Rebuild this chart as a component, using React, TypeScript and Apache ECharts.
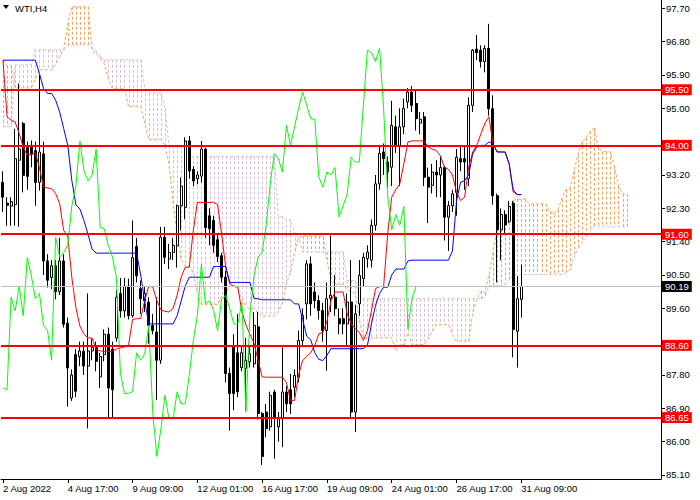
import React, { useEffect, useRef } from 'react';
import * as echarts from 'echarts';

const FONT = '"Liberation Sans", Arial, sans-serif';

// Tick labels
const xTickLabels = ['2 Aug 2022', '4 Aug 17:00', '9 Aug 09:00', '12 Aug 01:00', '16 Aug 17:00', '19 Aug 09:00', '24 Aug 01:00', '26 Aug 17:00', '31 Aug 09:00'];
const barsPerXTick = 16;
const yTickValues = [85.1, 86.0, 86.9, 87.8, 88.7, 89.6, 90.5, 91.4, 92.3, 93.2, 94.1, 95.0, 95.9, 96.8, 97.7];
// labels hidden behind the level boxes in the reference
const yHiddenLabels = [88.7, 94.1];
const levels = [95.5, 94.0, 91.6, 88.6, 86.65];
const lastPrice = 90.19;
const totalSlots = 163;
const chikouShift = 26;

// H4 candles (WTI)
const opens = [
  93.0, 92.44, 92.36, 92.4, 93.6, 94.59, 93.95, 94.0, 93.86, 93.0,
  93.77, 90.88, 90.43, 90.75, 90.05, 90.88, 89.2, 87.18, 88.35, 88.3,
  88.44, 88.04, 88.45, 88.54, 87.75, 88.35, 88.9, 88.5, 88.8, 90.0,
  89.53, 90.2, 89.4, 91.27, 90.13, 89.8, 89.77, 89.14, 88.96, 88.2,
  91.52, 90.93, 91.11, 91.29, 92.37, 92.32, 94.12, 93.35, 93.1, 93.17,
  93.9, 92.1, 91.97, 91.45, 91.02, 90.44, 87.84, 88.56, 88.4, 88.0,
  87.98, 88.15, 88.1, 89.1, 86.76, 86.8, 86.4, 87.34, 86.4, 86.62,
  87.34, 87.4, 87.47, 87.74, 88.73, 89.72, 90.8, 90.04, 89.81, 89.54,
  89.0, 89.87, 89.9, 89.32, 89.32, 89.18, 89.77, 86.8, 89.72, 90.4,
  90.94, 90.9, 91.84, 92.96, 93.82, 93.55, 93.41, 94.5, 94.0, 94.5,
  95.17, 95.44, 95.13, 94.6, 94.77, 93.14, 92.92, 93.28, 93.2, 93.4,
  92.06, 92.37, 92.73, 93.64, 93.64, 93.1, 95.08, 96.6, 96.57, 96.26,
  96.62, 94.99, 92.64, 91.72, 92.13, 91.95, 92.44, 88.98, 89.84,
];
const closes = [
  92.6, 92.38, 92.48, 93.64, 93.9, 93.19, 93.16, 93.77, 93.0, 93.82,
  90.88, 90.36, 90.75, 90.05, 90.88, 89.17, 87.99, 87.8, 87.36, 88.45,
  88.04, 88.45, 88.54, 88.17, 88.3, 88.9, 87.45, 87.4, 89.9, 89.53,
  90.2, 89.4, 90.97, 90.48, 89.86, 90.0, 89.14, 89.0, 88.2, 91.52,
  90.98, 91.11, 91.3, 92.37, 92.9, 94.12, 93.31, 93.04, 93.2, 93.9,
  91.78, 91.75, 91.3, 91.0, 90.44, 87.84, 87.3, 87.3, 87.35, 88.4,
  88.2, 88.37, 89.14, 86.76, 85.6, 86.35, 87.25, 86.62, 86.62, 87.34,
  87.02, 87.02, 87.79, 88.73, 89.41, 90.8, 89.72, 89.81, 89.54, 89.0,
  89.86, 89.95, 89.59, 89.18, 89.18, 89.77, 86.8, 89.45, 90.49, 90.98,
  91.12, 91.84, 92.96, 93.78, 93.64, 93.28, 94.54, 94.0, 94.5, 95.0,
  95.44, 95.08, 94.72, 94.7, 93.14, 92.87, 93.28, 93.2, 93.4, 92.06,
  92.37, 92.69, 93.68, 93.55, 93.55, 95.08, 96.57, 96.5, 96.26, 96.62,
  94.99, 92.64, 91.72, 92.13, 91.85, 92.35, 89.03, 89.86, 90.19,
];
const highs = [
  93.3, 92.6, 92.6, 94.45, 95.67, 94.63, 94.1, 94.13, 94.1, 95.9,
  94.1, 91.06, 90.9, 90.9, 91.5, 91.06, 89.35, 87.95, 88.5, 88.7,
  88.7, 90.0, 88.77, 88.7, 88.4, 89.03, 89.08, 88.7, 90.1, 90.42,
  90.42, 90.4, 91.97, 91.5, 90.35, 90.2, 89.9, 89.45, 89.9, 91.8,
  91.8, 91.34, 91.5, 92.4, 93.13, 94.22, 94.25, 93.44, 93.3, 94.12,
  93.94, 92.3, 92.1, 91.6, 91.1, 90.62, 88.0, 88.9, 89.45, 88.6,
  88.8, 88.6, 89.5, 89.5, 86.8, 87.02, 87.35, 87.4, 86.8, 88.55,
  87.5, 87.83, 87.95, 89.0, 89.6, 90.9, 91.0, 90.3, 89.95, 89.75,
  90.3, 91.57, 90.5, 89.6, 89.6, 90.0, 90.9, 89.7, 90.9, 91.1,
  91.3, 92.0, 93.2, 94.0, 94.05, 93.7, 95.2, 94.8, 95.0, 95.26,
  95.55, 95.6, 95.5, 94.9, 94.9, 93.4, 93.5, 93.6, 93.7, 93.45,
  92.5, 92.8, 93.9, 94.0, 94.0, 95.3, 96.6, 96.98, 96.7, 96.7,
  97.28, 95.35, 92.7, 92.3, 92.25, 92.5, 92.5, 90.47, 90.78,
];
const lows = [
  92.2, 91.83, 91.83, 91.83, 91.8, 92.73, 92.8, 93.41, 92.37, 92.78,
  90.5, 90.16, 90.12, 89.84, 89.96, 89.08, 86.95, 87.1, 87.2, 88.04,
  87.8, 86.36, 88.2, 87.9, 87.45, 88.17, 86.64, 86.64, 88.7, 89.35,
  89.35, 89.3, 89.35, 90.3, 89.45, 89.5, 88.65, 88.9, 87.12, 88.1,
  90.8, 90.66, 90.9, 90.7, 91.7, 92.0, 93.1, 92.9, 92.95, 93.0,
  91.5, 91.3, 91.1, 90.85, 90.3, 87.6, 86.3, 86.85, 87.2, 87.9,
  86.85, 88.0, 88.0, 86.6, 85.37, 86.12, 86.3, 85.54, 86.0, 85.85,
  86.8, 86.75, 87.2, 87.6, 88.6, 89.3, 89.4, 89.6, 89.3, 88.7,
  87.92, 89.5, 89.4, 88.9, 88.9, 88.6, 86.65, 86.26, 89.4, 90.2,
  90.7, 90.7, 91.7, 92.8, 93.2, 92.85, 92.9, 93.8, 92.9, 94.3,
  95.0, 94.9, 94.4, 94.3, 92.9, 91.9, 92.7, 92.6, 92.6, 91.43,
  91.15, 92.2, 92.1, 93.3, 92.8, 92.9, 94.9, 96.3, 96.1, 95.97,
  94.8, 92.4, 90.3, 90.9, 91.6, 91.9, 88.28, 88.0, 89.35,
];

// Ichimoku lines
const tenkan = [
  96.3, 94.77, 94.68, 94.63, 94.32, 93.95, 93.73, 93.75, 93.8, 93.4,
  92.87, 92.85, 92.83, 92.7, 92.42, 91.7, 91.55, 90.43, 89.62, 89.12,
  88.9, 88.8, 88.8, 88.49, 88.45, 88.44, 88.44, 88.44, 88.5, 88.53,
  88.56, 88.6, 89.3, 89.32, 89.32, 89.81, 90.2, 90.17, 89.81, 89.56,
  89.52, 89.5, 89.6, 89.95, 90.44, 90.71, 90.71, 91.7, 92.46, 92.46,
  92.46, 92.46, 92.46, 92.4, 91.6, 90.71, 90.26, 90.2, 90.17, 89.5,
  89.15, 88.9, 88.65, 88.2, 87.75, 87.74, 87.74, 87.74, 87.74, 87.74,
  87.6, 87.11, 87.11, 87.8, 88.19, 88.3, 88.4, 88.6, 88.91, 88.95,
  89.25, 89.8, 90.04, 90.04, 90.04, 89.45, 89.18, 89.05, 88.95, 88.73,
  89.0, 89.54, 90.13, 90.19, 90.19, 91.61, 92.6, 92.8, 92.96, 93.5,
  94.09, 94.12, 94.12, 94.12, 94.12, 93.95, 93.9, 93.86, 93.72, 93.41,
  93.35, 93.2, 92.74, 92.51, 92.6, 93.41, 93.82, 94.0, 94.3, 94.59,
  94.77, 94.05, 93.83, 93.82, 93.82, 93.5, 92.74, 92.67, 92.67,
];
const kijun = [
  96.3, 96.3, 96.3, 96.3, 96.3, 96.3, 96.3, 96.3, 96.3, 95.94,
  95.54, 95.4, 95.4, 95.22, 94.9, 94.45, 94.0, 93.05, 92.4, 92.28,
  91.97, 91.6, 91.2, 91.09, 91.09, 91.09, 91.09, 91.09, 91.09, 91.09,
  91.09, 91.09, 91.09, 91.09, 90.5, 89.8, 89.18, 89.18, 89.18, 89.18,
  89.18, 89.18, 89.18, 89.4, 89.8, 90.2, 90.44, 90.44, 90.44, 90.44,
  90.44, 90.44, 90.73, 90.73, 90.73, 90.73, 90.3, 90.3, 90.3, 90.3,
  90.3, 90.3, 89.86, 89.86, 89.83, 89.83, 89.83, 89.83, 89.83, 89.83,
  89.83, 89.83, 89.72, 89.72, 89.3, 88.85, 88.75, 88.4, 88.22, 88.19,
  88.33, 88.51, 88.51, 88.51, 88.51, 88.51, 88.51, 88.51, 88.51, 88.51,
  88.6, 89.18, 89.68, 90.0, 90.17, 90.17, 90.5, 90.66, 90.66, 90.66,
  90.88, 90.9, 90.9, 90.9, 90.9, 90.9, 90.9, 90.9, 90.9, 90.9,
  90.9, 91.15, 92.5, 93.0, 93.05, 93.2, 93.77, 93.95, 94.0, 94.0,
  94.09, 94.05, 93.82, 93.82, 93.82, 93.5, 92.8, 92.67, 92.67,
];
const spanA = [
  96.3, 96.15, 96.15, 95.55, 95.55, 95.55, 95.55, 95.55, 95.8, 96.04,
  96.04, 96.04, 96.04, 96.2, 96.4, 96.58, 97.3, 97.74, 97.74, 97.74,
  97.74, 97.74, 96.6, 96.45, 96.35, 96.2, 95.8, 95.54, 95.54, 95.54,
  95.54, 95.05, 95.05, 95.05, 95.05, 94.6, 94.15, 94.15, 94.15, 94.15,
  94.0, 93.5, 92.44, 91.6, 90.9, 90.74, 90.74, 90.56, 90.02, 89.7,
  89.7, 89.7, 89.7, 89.7, 89.93, 90.0, 90.2, 90.2, 90.1, 89.84,
  89.66, 89.57, 89.6, 89.48, 89.39, 89.39, 89.39, 89.39, 89.5, 89.75,
  90.29, 90.56, 91.1, 91.5, 91.55, 91.55, 91.55, 91.55, 91.55, 91.55,
  90.9, 90.4, 90.25, 90.25, 90.25, 90.1, 90.05, 90.0, 89.3, 88.8,
  88.8, 88.8, 88.8, 88.8, 88.8, 88.8, 88.8, 88.45, 88.62, 88.62,
  88.94, 88.62, 88.62, 88.62, 88.62, 88.76, 88.98, 89.16, 89.16, 89.16,
  89.16, 88.89, 88.71, 88.71, 88.71, 88.71, 89.48, 89.85, 90.06, 90.02,
  90.5, 91.1, 91.72, 92.0, 92.05, 92.2, 92.51, 92.55, 92.55, 92.55,
  92.42, 92.42, 92.42, 92.42, 92.42, 92.22, 92.13, 92.26, 92.55, 92.8,
  92.84, 93.3, 93.75, 94.1, 94.2, 94.38, 94.47, 93.95, 93.83, 93.83,
  93.83, 93.43, 92.9, 92.69, 92.69,
];
const spanB = [
  94.5, 94.5, 94.5, 96.17, 96.17, 96.17, 96.17, 96.17, 96.58, 96.58,
  96.58, 96.58, 96.58, 96.58, 96.58, 96.58, 96.7, 96.71, 96.71, 96.71,
  96.71, 96.71, 96.65, 96.55, 96.4, 96.31, 96.31, 96.31, 96.31, 96.31,
  96.31, 96.31, 96.31, 96.31, 96.31, 95.54, 95.41, 95.41, 95.41, 95.41,
  95.0, 94.0, 94.0, 94.0, 94.0, 94.0, 93.7, 93.7, 93.7, 93.7,
  93.7, 93.7, 93.7, 93.7, 93.7, 93.7, 93.7, 93.7, 93.7, 93.7,
  93.7, 93.7, 93.7, 93.7, 93.7, 93.7, 93.7, 93.7, 92.08, 92.08,
  91.99, 91.99, 91.64, 91.5, 91.12, 91.12, 91.12, 91.12, 91.12, 91.12,
  91.12, 91.12, 91.12, 91.12, 91.12, 90.35, 90.35, 90.35, 89.88, 89.86,
  89.86, 89.86, 89.86, 89.86, 89.86, 89.86, 89.86, 89.86, 89.86, 89.86,
  89.86, 89.86, 89.86, 89.86, 89.86, 89.86, 89.86, 89.86, 89.86, 89.86,
  89.86, 89.86, 89.86, 89.86, 89.86, 89.86, 89.86, 89.86, 89.86, 89.9,
  90.2, 90.2, 90.2, 90.2, 90.25, 90.38, 90.51, 90.51, 90.51, 90.51,
  90.51, 90.51, 90.51, 90.51, 90.51, 90.51, 90.51, 90.51, 90.51, 90.55,
  90.65, 90.96, 91.19, 91.37, 91.5, 91.68, 91.8, 91.8, 91.8, 91.8,
  91.8, 91.8, 91.8, 91.8, 91.8,
];

const categories = Array.from({ length: totalSlots }, (_, i) => String(i));
const isXTick = (i: number) => i % barsPerXTick === 0 && i / barsPerXTick < xTickLabels.length;
const yLabelValues = yTickValues.filter((v) => !yHiddenLabels.includes(v));

function buildOption(): any {
  const candleData = opens.map((o, i) => [o, closes[i], lows[i], highs[i]]);
  const chikou = closes.slice(chikouShift);
  const cloudData = spanA.map((a, i) => [i, a, spanB[i]]);

  return {
    animation: false,
    backgroundColor: '#ffffff',
    grid: { left: -1, right: 39, top: 0, bottom: 21, containLabel: false },
    xAxis: {
      type: 'category',
      data: categories,
      boundaryGap: true,
      axisLine: { show: true, lineStyle: { color: '#000000', width: 1 } },
      axisTick: { show: true, alignWithLabel: true, interval: (i: number) => isXTick(i), length: 4, lineStyle: { color: '#000000' } },
      axisLabel: {
        interval: (i: number) => isXTick(i),
        formatter: (_v: string, i: number) => (isXTick(i) ? xTickLabels[i / barsPerXTick] : ''),
        align: 'left',
        margin: 4,
        color: '#000000',
        fontSize: 9.5,
        fontFamily: FONT,
        hideOverlap: false,
      },
      splitLine: { show: false },
    },
    yAxis: {
      type: 'value',
      position: 'right',
      min: 84.992,
      max: 97.924,
      axisLine: { show: true, lineStyle: { color: '#000000', width: 1 } },
      axisTick: { show: true, customValues: yTickValues, length: 4, lineStyle: { color: '#000000' } },
      axisLabel: {
        customValues: yLabelValues,
        formatter: (v: number) => v.toFixed(2),
        color: '#000000',
        fontSize: 9.5,
        fontFamily: FONT,
        margin: 5,
      },
      splitLine: { show: false },
    },
    graphic: [
      { type: 'polygon', shape: { points: [[3, 5], [9, 5], [6, 9]] }, style: { fill: '#000000' }, z: 100 },
      { type: 'text', x: 15, y: 8, style: { text: 'WTI,H4', fill: '#000000', fontSize: 9.5, fontFamily: FONT, verticalAlign: 'middle' }, z: 100 },
    ],
    series: [
      {
        type: 'custom',
        name: 'cloud',
        z: 1,
        silent: true,
        data: cloudData,
        encode: { x: 0, y: [1, 2] },
        renderItem: (_params: any, api: any) => {
          const i = api.value(0);
          const a = api.value(1);
          const b = api.value(2);
          const pa = api.coord([i, a]);
          const pb = api.coord([i, b]);
          const x = Math.round(pa[0]) + 0.5;
          return {
            type: 'line',
            shape: { x1: x, y1: Math.min(pa[1], pb[1]), x2: x, y2: Math.max(pa[1], pb[1]) },
            style: { stroke: a >= b ? '#f4a460' : '#d8bfd8', lineWidth: 1, lineDash: [3, 2] },
          };
        },
      },
      {
        type: 'line', name: 'spanA', z: 2, data: spanA, symbol: 'none', silent: true,
        lineStyle: { color: '#f4a460', width: 1, type: [3, 2] },
      },
      {
        type: 'line', name: 'spanB', z: 2, data: spanB, symbol: 'none', silent: true,
        lineStyle: { color: '#d8bfd8', width: 1, type: [3, 2] },
      },
      {
        type: 'candlestick',
        name: 'WTI',
        z: 3,
        barWidth: 2.5,
        data: candleData,
        itemStyle: { color: '#ffffff', color0: '#000000', borderColor: '#000000', borderColor0: '#000000', borderWidth: 1 },
      },
      { type: 'line', name: 'tenkan', z: 4, data: tenkan, symbol: 'none', silent: true, lineStyle: { color: '#ff0000', width: 1 } },
      { type: 'line', name: 'kijun', z: 4, data: kijun, symbol: 'none', silent: true, lineStyle: { color: '#0000ff', width: 1 } },
      { type: 'line', name: 'chikou', z: 4, data: chikou, symbol: 'none', silent: true, lineStyle: { color: '#00ff00', width: 1 } },
      {
        type: 'line',
        name: 'levels',
        z: 5,
        data: [[0, lastPrice]],
        symbol: 'none',
        lineStyle: { opacity: 0 },
        silent: true,
        markLine: {
          silent: true,
          symbol: ['none', 'none'],
          animation: false,
          label: {
            show: true,
            position: 'end',
            distance: 1,
            formatter: (p: any) => Number(p.value).toFixed(2),
            color: '#ffffff',
            backgroundColor: '#ff0000',
            padding: [1, 3, 0, 3],
            fontSize: 9.5,
            fontFamily: FONT,
          },
          data: [
            { yAxis: lastPrice, lineStyle: { color: '#c0c0c0', width: 1, type: 'solid' }, label: { backgroundColor: '#000000' } },
            ...levels.map((v) => ({ yAxis: v, lineStyle: { color: '#ff0000', width: 2, type: 'solid' } })),
          ],
        },
      },
    ],
  };
}

export default function App() {
  const ref = useRef<HTMLDivElement>(null);
  useEffect(() => {
    if (!ref.current) return;
    const chart = echarts.init(ref.current, null, { renderer: 'svg' });
    chart.setOption(buildOption());
    return () => chart.dispose();
  }, []);
  return (
    <div
      ref={ref}
      style={{ position: 'absolute', left: 0, top: 0, width: 700, height: 500, background: '#ffffff' }}
    />
  );
}
